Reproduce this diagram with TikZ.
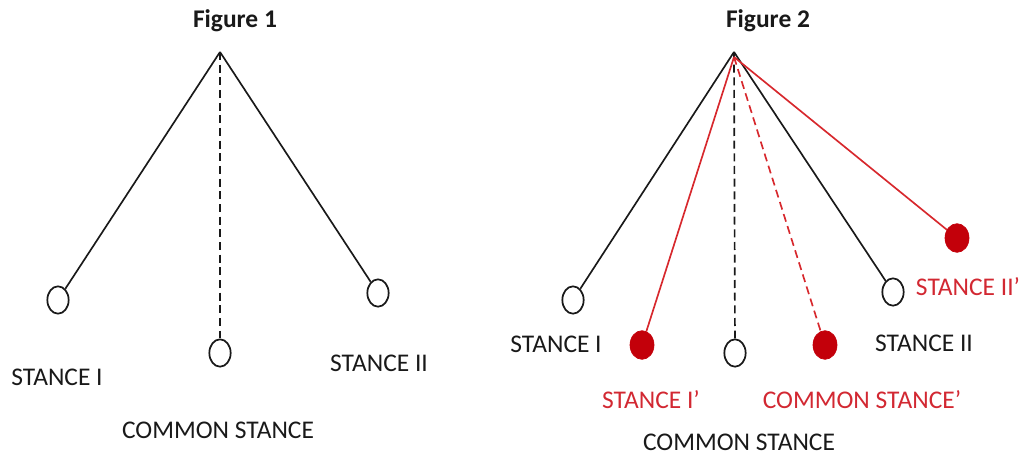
\documentclass[tikz,border=0pt]{standalone}
\usepackage{fontspec}
\setmainfont{Carlito}
\usetikzlibrary{shapes.geometric}
\definecolor{redline}{RGB}{215,40,45}
\definecolor{redfill}{RGB}{195,0,10}
\definecolor{redtext}{RGB}{210,40,50}
\definecolor{inkblack}{RGB}{25,25,25}
\tikzset{
  opencirc/.style={ellipse,draw=inkblack,line width=1.3pt,fill=white,minimum width=16pt,minimum height=20.5pt,inner sep=0pt},
  redcirc/.style={ellipse,draw=redfill,fill=redfill,line width=0.5pt,minimum width=18pt,minimum height=21.5pt,inner sep=0pt},
  blackline/.style={draw=inkblack,line width=1.25pt},
  redlinestyle/.style={draw=redline,line width=1.25pt},
  dashline/.style={dash pattern=on 6pt off 3.5pt},
  lbl/.style={font=\fontsize{19.1}{23}\selectfont,inner sep=0pt,text=inkblack},
  redlbl/.style={font=\fontsize{19.1}{23}\selectfont,inner sep=0pt,text=redtext},
  ttl/.style={font=\fontsize{19.1}{23}\selectfont\bfseries,inner sep=0pt,text=inkblack}
}
\begin{document}
\begin{tikzpicture}[x=0.75pt,y=-0.75pt]
\useasboundingbox (0,0) rectangle (1027,456);
% ---------- Figure 1 ----------
\node[ttl] (t1) at (235,21) {Figure 1};
\coordinate (a1) at (220,52);
\node[opencirc] (l1) at (58,300) {};
\node[opencirc] (r1) at (378,293) {};
\node[opencirc] (m1) at (220,353) {};
\draw[blackline] (a1) -- (l1);
\draw[blackline] (a1) -- (r1);
\draw[blackline,dashline] (a1) -- (m1);
\node[lbl] (sl1) at (57,377) {STANCE I};
\node[lbl] (sr1) at (379,363) {STANCE II};
\node[lbl] (sm1) at (218,430) {COMMON STANCE};
% ---------- Figure 2 ----------
\node[ttl] (t2) at (768,21) {Figure 2};
\coordinate (a2) at (734,52);
\coordinate (a2r) at (734,57);
\node[opencirc] (l2) at (573,300) {};
\node[opencirc] (r2) at (893,292) {};
\node[opencirc] (m2) at (735,353) {};
\node[redcirc] (rl2) at (642,345) {};
\node[redcirc] (rm2) at (825,345) {};
\node[redcirc] (rr2) at (957,238) {};
\draw[blackline] (a2) -- (l2);
\draw[blackline] (a2) -- (r2);
\draw[blackline,dashline] (a2) -- (m2);
\draw[redlinestyle] (a2r) -- (rl2);
\draw[redlinestyle,dashline] (a2r) -- (rm2);
\draw[redlinestyle] (a2r) -- (rr2);
\node[lbl] (sl2) at (556,344) {STANCE I};
\node[lbl] (sr2) at (924,343) {STANCE II};
\node[lbl] (sm2) at (739,442) {COMMON STANCE};
\node[redlbl] (rsl2) at (651,400) {STANCE I’};
\node[redlbl] (rsm2) at (862,400) {COMMON STANCE’};
\node[redlbl] (rsr2) at (968,287) {STANCE II’};
\end{tikzpicture}
\end{document}
